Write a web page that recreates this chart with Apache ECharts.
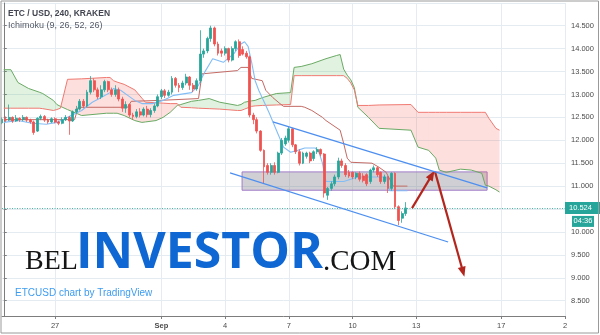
<!DOCTYPE html>
<html><head><meta charset="utf-8">
<script src="https://cdn.jsdelivr.net/npm/echarts@6/dist/echarts.min.js"></script>
<style>html,body{margin:0;padding:0;background:#fff}#c{width:600px;height:335px}</style>
</head><body><div id="c"></div>
<script>
// ---- axis ticks ----
const slotCount = 160; // 4h slots
const tickIdx = [15, 45, 63, 81, 99, 117, 141, 159];
const tickText = ['27', 'Sep', '4', '7', '10', '13', '17', '2'];
const categories = Array.from({length: slotCount}, (_, i) => 'p' + i);

// ---- candles [open, close, low, high] ----
const candles = [
[12.38,12.46,12.35,12.50],[12.46,12.44,12.40,12.52],[12.44,12.50,12.42,12.78],[12.50,12.42,12.38,12.52],
[12.42,12.48,12.40,12.55],[12.48,12.45,12.40,12.50],[12.45,12.50,12.42,12.55],[12.50,12.44,12.40,12.52],
[12.44,12.40,12.36,12.47],[12.40,12.17,12.12,12.43],[12.20,12.48,12.18,12.50],[12.48,12.52,12.44,12.56],
[12.52,12.44,12.40,12.55],[12.44,12.40,12.36,12.47],[12.40,12.47,12.38,12.50],[12.47,12.40,12.37,12.50],
[12.40,12.37,12.33,12.43],[12.37,12.45,12.35,12.50],[12.45,12.50,12.42,12.55],[12.50,12.42,12.12,12.53],
[12.42,12.62,12.40,12.65],[12.62,12.68,12.58,12.75],[12.68,12.85,12.65,12.90],[12.85,12.75,12.70,12.90],
[12.75,13.05,12.72,13.10],[13.05,13.30,13.00,13.40],[13.30,13.10,13.05,13.35],[13.10,12.95,12.90,13.15],
[12.95,13.10,12.90,13.20],[13.10,13.28,13.05,13.32],[13.28,13.10,13.05,13.30],[13.10,13.00,12.95,13.15],
[13.00,13.10,12.95,13.20],[13.10,12.90,12.85,13.15],[12.90,12.70,12.62,12.95],[12.70,12.78,12.60,12.85],
[12.78,12.55,12.50,12.80],[12.55,12.52,12.45,12.60],[12.52,12.62,12.48,12.68],[12.62,12.55,12.50,12.70],
[12.55,12.68,12.52,12.72],[12.68,12.56,12.50,12.75],[12.56,12.65,12.50,12.70],[12.65,12.75,12.60,12.80],
[12.75,12.95,12.72,13.00],[12.95,13.08,12.90,13.12],[13.08,12.98,12.92,13.12],[12.98,13.05,12.95,13.10],
[13.05,13.35,13.00,13.40],[13.35,13.20,13.15,13.38],[13.20,13.15,13.05,13.25],[13.15,13.25,13.10,13.30],
[13.25,13.38,13.20,13.45],[13.38,13.20,13.10,13.40],[13.20,13.12,13.05,13.25],[13.12,13.30,13.08,13.35],
[13.30,13.88,13.25,14.40],[13.88,13.95,13.80,14.00],[13.95,14.22,13.90,14.26],[14.22,14.45,14.15,14.50],
[14.45,14.10,14.05,14.48],[14.10,13.90,13.85,14.15],[13.95,13.90,13.82,14.00],[13.90,14.00,13.85,14.05],
[14.00,13.75,13.70,14.02],[13.75,14.00,13.72,14.05],[14.00,14.15,13.95,14.18],[14.15,13.85,13.80,14.20],
[13.98,13.88,13.85,14.05],[13.90,13.82,13.78,13.95],[13.82,12.55,12.50,13.85],[12.55,12.45,12.35,12.60],
[12.45,12.20,12.15,12.50],[12.20,11.78,11.75,12.22],[11.78,11.42,11.05,11.80],[11.45,11.30,11.25,11.50],
[11.30,11.45,11.25,11.50],[11.45,11.30,11.25,11.52],[11.30,11.72,11.28,11.75],[11.72,12.00,11.68,12.05],
[11.92,12.05,11.88,12.10],[12.00,12.25,11.95,12.30],[12.25,11.90,11.85,12.27],[11.90,11.75,11.70,11.92],
[11.75,11.50,11.45,11.80],[11.50,11.72,11.48,11.75],[11.65,11.72,11.60,11.75],[11.72,11.55,11.50,11.75],
[11.60,11.75,11.55,11.78],[11.75,11.80,11.70,11.85],[11.80,11.70,11.65,11.82],[11.70,10.85,10.75,11.72],
[10.80,10.95,10.70,10.98],[10.95,11.05,10.90,11.10],[11.05,11.20,11.00,11.25],[11.20,11.55,11.15,11.62],
[11.55,11.45,11.40,11.60],[11.45,11.25,11.20,11.50],[11.30,11.22,11.18,11.35],[11.30,11.20,11.15,11.32],
[11.20,11.28,11.15,11.30],[11.28,11.15,11.10,11.32],[11.22,11.12,11.08,11.28],[11.25,11.05,11.00,11.28],
[11.10,11.35,11.05,11.38],[11.35,11.40,11.30,11.45],[11.40,11.25,11.20,11.42],[11.30,11.10,11.05,11.32],
[11.10,11.20,11.05,11.25],[11.20,10.95,10.85,11.22],[10.95,11.28,10.90,11.30],[11.28,10.55,10.50,11.30],
[10.55,10.25,10.15,10.58],[10.30,10.40,10.20,10.45],[10.40,10.524,10.35,10.65]
];
const countdown = '04:36';

// ---- Ichimoku cloud (Senkou A / Senkou B) ----
const cloudIdx = [0,2,4,7,10,11,14,15,16,18,22,29,30,31,32,34,37,39,40,43,45,47,49,50,53,55,58,61,66,67,68,70,71,73,77,81,82,84,87,91,94,95,96,97,98,99,100,103,106,115,117,120,122,123,125,129,132,135,136,137,139,140];
const cloudA = [13.54,13.54,13.26,13.13,13.05,13.02,12.87,12.78,12.74,12.67,12.54,12.59,12.59,12.59,12.59,12.54,12.43,12.39,12.40,12.43,12.50,12.61,12.76,12.78,12.85,12.87,12.91,12.83,12.76,12.78,12.83,12.86,12.87,12.93,13.02,13.04,13.59,13.61,13.67,13.78,13.85,13.87,13.55,13.42,13.32,13.15,12.72,12.50,12.26,12.22,11.85,11.78,11.61,11.35,11.30,11.37,11.35,11.28,11.02,11.00,10.92,10.87];
const cloudB = [12.70,12.70,12.70,12.70,12.70,12.69,12.65,12.67,12.70,13.33,13.34,13.37,13.37,13.30,13.27,13.22,13.10,12.92,12.83,12.82,12.81,12.80,12.80,12.72,12.71,12.70,12.69,12.68,12.65,12.65,12.68,12.74,12.75,12.76,12.77,12.78,13.41,13.41,13.41,13.41,13.41,13.41,13.41,13.35,13.25,13.10,12.76,12.76,12.77,12.78,12.61,12.61,12.61,12.61,12.61,12.61,12.61,12.61,12.61,12.48,12.26,12.22];

// ---- Tenkan / Kijun [slot, value] ----
const tenkan = [[0,12.39],[4,12.43],[8,12.37],[12,12.35],[15,12.39],[18,12.5],[22,12.65],[25,12.83],[27,12.91],[30,13.04],[31,13.13],[33,13.09],[35,12.98],[37,12.87],[39,12.8],[42,12.8],[45,12.87],[48,12.98],[53,13.04],[55,13.2],[56,13.37],[57,13.52],[59,13.78],[62,13.7],[65,13.89],[67,14.1],[68,14.15],[69,14.05],[70,13.7],[71,13.3],[72,13.09],[74,12.76],[75,12.59],[77,12.22],[79,11.85],[81,11.74],[83,11.78],[85,11.83],[88,11.83],[89,11.74],[90,11.5],[91,11.1],[96,11.1],[100,11.2],[108,11.2],[109,10.9],[114,10.9]];
const kijun = [[0,12.45],[20,12.45],[21,12.72],[35,12.72],[36,12.85],[44,12.87],[55,12.91],[56,13.45],[66,13.52],[67,13.59],[69,13.59],[70,13.35],[73,13.3],[74,13.09],[76,12.93],[78,12.8],[79,12.74],[84,12.74],[85,12.72],[87,12.65],[90,12.5],[91,12.43],[95,12.22],[96,11.93],[97,11.61],[98,11.52],[104,11.5],[106,11.41],[108,11.3],[110,11.0],[114,11.0]];

// ---- drawings [slot, price] ----
const channelUpper = [[76.0,12.40],[136.5,10.96]];
const channelLower = [[63.9,11.29],[125.5,9.78]];
const zoneX = [67.3, 136.5];
const zoneY = [11.31, 10.91];
const arrowUp = [[115.3,10.52],[120.9,11.24]];
const arrowDown = [[121.8,11.31],[129.7,9.13]];

const lastPrice = candles[candles.length - 1][1];
const GREEN = '#26a69a', RED = '#ef5350';
const tickSet = new Set(tickIdx);
const tickFn = (i) => tickSet.has(i);

const chart = echarts.init(document.getElementById('c'), null, {renderer: 'canvas'});
const fontFamily = '"Liberation Sans", Arial, sans-serif';

const option = {
  animation: false,
  backgroundColor: '#ffffff',
  textStyle: {fontFamily},
  grid: {left: 2, right: 35, top: 3, bottom: 19, containLabel: false},
  xAxis: [{
    type: 'category', data: categories, boundaryGap: false,
    axisLine: {lineStyle: {color: '#7d7d7d', width: 1}},
    axisTick: {show: true, interval: tickFn, length: 3, lineStyle: {color: '#7d7d7d'}},
    axisLabel: {
      interval: tickFn, fontSize: 7.5, color: '#4a4a4a', margin: 6,
      formatter: (v, i) => { const k = tickIdx.indexOf(i); if (k < 0) return ''; const t = tickText[k]; return t === 'Sep' ? '{b|Sep}' : t; },
      rich: {b: {fontWeight: 'bold', fontSize: 7.5, color: '#4a4a4a'}}
    },
    splitLine: {show: true, interval: tickFn, lineStyle: {color: '#e4ecf1', width: 1}}
  }, {
    type: 'value', min: -0.5, max: 158.5, show: false, splitLine: {show: false}
  }],
  yAxis: [{
    type: 'value', position: 'right', min: 8.166, max: 14.995, scale: true,
    splitNumber: 13, minInterval: 0.5, maxInterval: 0.5,
    axisLine: {show: true, lineStyle: {color: '#7d7d7d'}},
    axisTick: {show: true, length: 3, lineStyle: {color: '#7d7d7d'}},
    axisLabel: {fontSize: 7.5, color: '#4a4a4a', margin: 6, showMinLabel: false, showMaxLabel: false,
      formatter: (v) => v.toFixed(3)},
    splitLine: {show: true, lineStyle: {color: '#e4ecf1', width: 1}}
  }],
  series: [
    {
      type: 'custom', name: 'cloud', xAxisIndex: 1, yAxisIndex: 0, silent: true, z: 1,
      data: cloudIdx.slice(0, -1).map((x, k) => [x, cloudA[k]]),
      encode: {x: 0, y: 1},
      renderItem: (params, api) => {
        const k = params.dataIndex;
        const x0 = cloudIdx[k], x1 = cloudIdx[k + 1];
        const a0 = cloudA[k], a1 = cloudA[k + 1], b0 = cloudB[k], b1 = cloudB[k + 1];
        const d0 = a0 - b0, d1 = a1 - b1;
        const gC = 'rgba(76,175,80,0.17)', rC = 'rgba(244,67,54,0.17)';
        const poly = (pts, c) => ({type: 'polygon', shape: {points: pts.map(p => api.coord(p))}, style: {fill: c}});
        if (d0 * d1 >= 0) {
          return poly([[x0, a0], [x1, a1], [x1, b1], [x0, b0]], (d0 + d1) >= 0 ? gC : rC);
        }
        const t = d0 / (d0 - d1);
        const xc = x0 + t * (x1 - x0), yc = a0 + t * (a1 - a0);
        return {type: 'group', children: [
          poly([[x0, a0], [xc, yc], [x0, b0]], d0 > 0 ? gC : rC),
          poly([[xc, yc], [x1, a1], [x1, b1]], d1 > 0 ? gC : rC)
        ]};
      }
    },
    {type: 'line', name: 'Lead 1', xAxisIndex: 1, data: cloudIdx.map((x, k) => [x, cloudA[k]]), symbol: 'none', silent: true, z: 2,
      lineStyle: {color: '#6aaa64', width: 1}},
    {type: 'line', name: 'Lead 2', xAxisIndex: 1, data: cloudIdx.map((x, k) => [x, cloudB[k]]), symbol: 'none', silent: true, z: 2,
      lineStyle: {color: '#f07a72', width: 1}},
    {type: 'line', name: 'Base', xAxisIndex: 1, data: kijun, symbol: 'none', silent: true, z: 3,
      lineStyle: {color: '#c46a64', width: 1}},
    {type: 'line', name: 'Conversion', xAxisIndex: 1, data: tenkan, symbol: 'none', silent: true, z: 3,
      lineStyle: {color: '#82bdf6', width: 1.1}},
    {
      type: 'candlestick', name: 'ETCUSD', xAxisIndex: 0, yAxisIndex: 0, data: candles, z: 4,
      barWidth: 2.4, itemStyle: {color: GREEN, color0: RED, borderColor: GREEN, borderColor0: RED, borderWidth: 0.8},
      markLine: {silent: true, symbol: 'none', label: {show: false},
        lineStyle: {color: '#4fb3a9', type: [1, 1.5], width: 1}, data: [{yAxis: lastPrice}]}
    },
    {type: 'line', name: 'channelUpper', xAxisIndex: 1, data: channelUpper, symbol: 'none', silent: true, z: 6,
      lineStyle: {color: '#4d8ff0', width: 1.2}},
    {type: 'line', name: 'channelLower', xAxisIndex: 1, data: channelLower, symbol: 'none', silent: true, z: 6,
      lineStyle: {color: '#4d8ff0', width: 1.2},
      markArea: {silent: true, itemStyle: {color: 'rgba(110,110,120,0.32)', borderColor: '#a07cc8', borderWidth: 1},
        data: [[{coord: [zoneX[0], zoneY[0]]}, {coord: [zoneX[1], zoneY[1]]}]]},
      markLine: {silent: true, symbol: ['none', 'triangle'], symbolSize: [8, 10], label: {show: false},
        lineStyle: {color: '#b3261e', width: 2.2, type: 'solid'},
        data: [
          [{coord: arrowUp[0]}, {coord: arrowUp[1]}],
          [{coord: arrowDown[0]}, {coord: arrowDown[1]}]
        ]}
    }
  ]
};
chart.setOption(option);

const py = chart.convertToPixel({yAxisIndex: 0}, lastPrice);
const graphics = [
  {type: 'text', id: 't1', x: 8, y: 14, style: {text: 'ETC / USD, 240, KRAKEN', fontSize: 8.5, fontWeight: 'bold', fontFamily, fill: '#434651', verticalAlign: 'middle'}},
  {type: 'text', id: 't2', x: 8, y: 26, style: {text: 'Ichimoku (9, 26, 52, 26)', fontSize: 9, fontFamily, fill: '#555a66', verticalAlign: 'middle'}},
  {type: 'text', id: 'w1', x: 25, y: 262, style: {text: 'BEL', fontSize: 28, fontFamily: '"Liberation Serif", "DejaVu Serif", serif', fill: '#151515', verticalAlign: 'middle'}, z: 50},
  {type: 'text', id: 'w2', x: 76, y: 254, style: {text: 'INVESTOR', fontSize: 50, fontWeight: 'bold', fontFamily: '"Open Sans", "Liberation Sans", sans-serif', fill: '#0e67d2', verticalAlign: 'middle'}, z: 50},
  {type: 'text', id: 'w3', x: 323, y: 262, style: {text: '.COM', fontSize: 29, fontFamily: '"Liberation Serif", "DejaVu Serif", serif', fill: '#151515', verticalAlign: 'middle'}, z: 50},
  {type: 'text', id: 'cr', x: 15, y: 293, style: {text: 'ETCUSD chart by TradingView', fontSize: 10, fontFamily, fill: '#3d9cf0', verticalAlign: 'middle'}, z: 50},
  {type: 'rect', id: 'pb', shape: {x: 565, y: py - 6, width: 35, height: 12}, style: {fill: GREEN}, z: 60},
  {type: 'text', id: 'pt', x: 569, y: py, style: {text: lastPrice.toFixed(3), fontSize: 7.5, fontFamily, fill: '#ffffff', verticalAlign: 'middle'}, z: 61},
  {type: 'rect', id: 'cb', shape: {x: 572, y: py + 8, width: 22, height: 11}, style: {fill: GREEN}, z: 60},
  {type: 'text', id: 'ct', x: 583, y: py + 13.5, style: {text: countdown, fontSize: 7.5, fontFamily, fill: '#ffffff', align: 'center', verticalAlign: 'middle'}, z: 61},
  {type: 'rect', id: 'fr', shape: {x: 1, y: 1, width: 597.5, height: 332}, style: {fill: 'none', stroke: '#9a9a9a', lineWidth: 1}, z: 70}
];
chart.setOption({graphic: graphics});
</script>
</body></html>
